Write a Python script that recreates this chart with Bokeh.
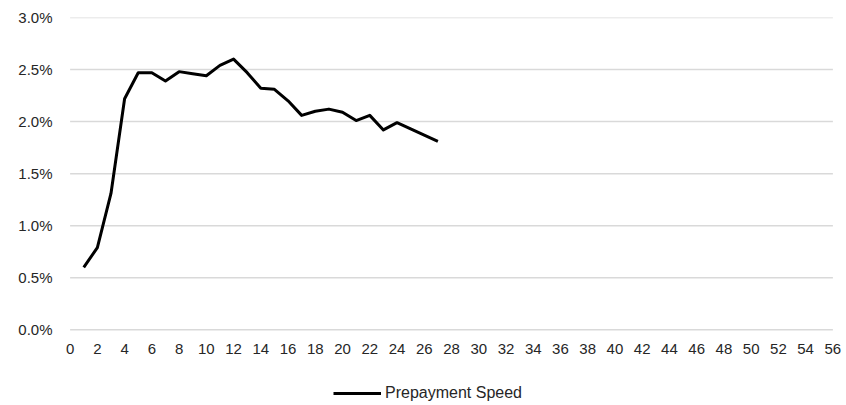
from bokeh.plotting import figure
from bokeh.models import (ColumnDataSource, Range1d, FixedTicker, NumeralTickFormatter,
                          Legend, LegendItem)
from bokeh.embed import file_html
from bokeh.resources import INLINE

# ---- data ----
months = [1, 2, 3, 4, 5, 6, 7, 8, 9, 10, 11, 12, 13, 14, 15, 16, 17, 18, 19, 20,
          21, 22, 23, 24, 25, 26, 27]
prepayment_speed = [0.0060, 0.0079, 0.0131, 0.0222, 0.0247, 0.0247, 0.0239, 0.0248,
                    0.0246, 0.0244, 0.0254, 0.0260, 0.0247, 0.0232, 0.0231, 0.0220,
                    0.0206, 0.0210, 0.0212, 0.0209, 0.0201, 0.0206, 0.0192, 0.0199,
                    0.0193, 0.0187, 0.0181]
x_ticks = list(range(0, 57, 2))
y_ticks = [0.0, 0.005, 0.010, 0.015, 0.020, 0.025, 0.030]
series_name = "Prepayment Speed"

FONT = "Liberation Sans"
TXT = "#262626"

src = ColumnDataSource(data=dict(x=months, y=prepayment_speed))
grid_src = ColumnDataSource(data=dict(
    x0=[x_ticks[0]] * len(y_ticks), x1=[x_ticks[-1]] * len(y_ticks), y=y_ticks))

# frame extends beyond the axis extents so edge labels and legend are not clipped
p = figure(width=846, height=405, output_backend="svg", toolbar_location=None,
           x_range=Range1d(-1, 57), y_range=Range1d(-0.00717, 0.03),
           min_border_left=56, min_border_right=0, min_border_top=17,
           min_border_bottom=1)
p.outline_line_color = None
p.background_fill_color = "white"
p.border_fill_color = "white"

# horizontal gridlines spanning the category extent only
p.segment(x0="x0", y0="y", x1="x1", y1="y", source=grid_src,
          line_color="#d9d9d9", line_width=1.5)

r = p.line("x", "y", source=src, line_color="black", line_width=3, line_join="round")

# axes
p.xaxis.ticker = FixedTicker(ticks=x_ticks)
p.xaxis.fixed_location = 0
p.yaxis.ticker = FixedTicker(ticks=y_ticks)
p.yaxis.formatter = NumeralTickFormatter(format="0.0%")
for ax in (p.xaxis[0], p.yaxis[0]):
    ax.axis_line_color = None
    ax.major_tick_line_color = None
    ax.minor_tick_line_color = None
    ax.major_tick_out = 0
    ax.major_tick_in = 0
    ax.major_label_text_font = FONT
    ax.major_label_text_font_size = "15px"
    ax.major_label_text_color = TXT
p.yaxis.major_label_standoff = 4
p.xaxis.major_label_standoff = 14

p.xgrid.grid_line_color = None
p.ygrid.grid_line_color = None

# legend
legend = Legend(items=[LegendItem(label=series_name, renderers=[r])],
                location=(277, 2), orientation="horizontal",
                border_line_color=None, background_fill_alpha=0,
                padding=0, margin=0, spacing=0,
                glyph_width=48, glyph_height=16, label_standoff=4,
                label_text_font=FONT, label_text_font_size="16px",
                label_text_color=TXT)
p.add_layout(legend, "center")

open("out.html", "w").write(file_html(p, INLINE))
